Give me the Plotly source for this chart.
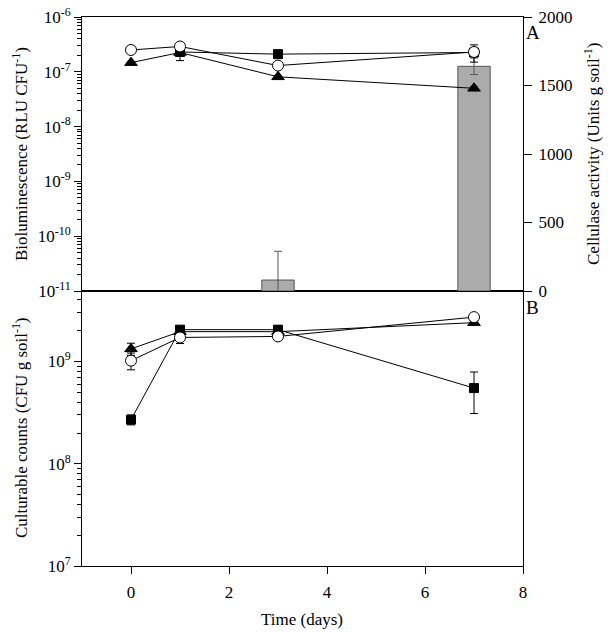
import plotly.graph_objects as go

# ---------------- data ----------------
days = [0, 1, 3, 7]

# Panel A: bioluminescence (RLU CFU^-1), log scale
biolum_square = [None, 2.3e-7, 2.1e-7, 2.25e-7]
biolum_square_err = [0, 0.0, 0.0, 0.0]
biolum_circle = [2.5e-7, 2.9e-7, 1.3e-7, 2.3e-7]
biolum_circle_err = [0, 0.0, 0.0, 0.8e-7]
biolum_triangle = [1.47e-7, 2.25e-7, 8.1e-8, 5.0e-8]
biolum_triangle_err = [0, 0.65e-7, 0.0, 0.3e-8]

# Panel A: cellulase activity (Units g soil^-1), bars
cell_days = [3, 7]
cellulase = [80, 1640]
cellulase_err = [210, 60]

# Panel B: culturable counts (CFU g soil^-1), log scale
count_square = [2.7e8, 2.05e9, 2.05e9, 5.5e8]
count_square_err = [0.3e8, 0.15e9, 0.1e9, 2.4e8]
count_circle = [1.02e9, 1.72e9, 1.76e9, 2.72e9]
count_circle_err = [0.19e9, 0.22e9, 0.15e9, 0.05e9]
count_triangle = [1.33e9, 1.96e9, 1.96e9, 2.4e9]
count_triangle_err = [0.18e9, 0.1e9, 0.1e9, 0.05e9]

x_ticks = [0, 2, 4, 6, 8]
biolum_exps = [-11, -10, -9, -8, -7, -6]
count_exps = [7, 8, 9]
cell_ticks = [0, 500, 1000, 1500, 2000]

FONT = "Liberation Serif"
BLACK = "#000000"

W, H = 609, 633
ML, MT = 82, 17
MR = W - 523
MB = H - 566


def minor_vals(exps):
    out = []
    for e in exps:
        for m in range(2, 10):
            out.append(m * 10 ** e)
    return out


fig = go.Figure()

# bars (base axis y2 so markers on y3 draw above)
fig.add_trace(go.Bar(
    x=cell_days, y=cellulase, width=0.66,
    marker=dict(color="#ababab", line=dict(color="#555555", width=1)),
    error_y=dict(type="data", array=cellulase_err, visible=True,
                 color="#555555", thickness=1, width=4),
    xaxis="x2", yaxis="y2", showlegend=False))


def line_trace(y, err, symbol, fill, xa, ya, size):
    return go.Scatter(
        x=days, y=y, mode="lines+markers",
        line=dict(color=BLACK, width=1),
        marker=dict(symbol=symbol, size=size, color=fill,
                    line=dict(color=BLACK, width=1)),
        error_y=dict(type="data", array=err, visible=True,
                     color=BLACK, thickness=1, width=4),
        xaxis=xa, yaxis=ya, showlegend=False, connectgaps=True)


# panel A lines
fig.add_trace(line_trace(biolum_triangle, biolum_triangle_err, "triangle-up", BLACK, "x2", "y3", 11))
fig.add_trace(line_trace(biolum_square, biolum_square_err, "square", BLACK, "x2", "y3", 9))
fig.add_trace(line_trace(biolum_circle, biolum_circle_err, "circle", "white", "x2", "y3", 11))

# panel B lines
fig.add_trace(line_trace(count_triangle, count_triangle_err, "triangle-up", BLACK, "x", "y", 11))
fig.add_trace(line_trace(count_square, count_square_err, "square", BLACK, "x", "y", 9))
fig.add_trace(line_trace(count_circle, count_circle_err, "circle", "white", "x", "y", 11))

split = 275 / 549
tickfont = dict(family=FONT, size=17, color=BLACK)

fig.update_layout(
    width=W, height=H,
    margin=dict(l=ML, r=MR, t=MT, b=MB, autoexpand=False),
    paper_bgcolor="white", plot_bgcolor="white",
    font=dict(family=FONT, size=17, color=BLACK),
    bargap=0,
    xaxis=dict(domain=[0, 1], anchor="y", range=[-1, 8], automargin=False,
               tickvals=x_ticks, ticktext=[str(v) for v in x_ticks],
               ticks="outside", ticklen=7, tickcolor=BLACK,
               ticklabelstandoff=4,
               showline=True, linecolor=BLACK, linewidth=1, mirror=True,
               showgrid=False, zeroline=False, tickfont=tickfont),
    xaxis2=dict(domain=[0, 1], anchor="y2", range=[-1, 8], automargin=False,
                showticklabels=False, ticks="",
                showline=True, linecolor=BLACK, linewidth=1, mirror=True,
                showgrid=False, zeroline=False),
    yaxis=dict(domain=[0, split], anchor="x", type="log", range=[7, 9.69],
               automargin=False,
               tickvals=[10 ** e for e in count_exps],
               ticktext=["10<sup>%d</sup>" % e for e in count_exps],
               ticks="outside", ticklen=7, tickcolor=BLACK,
               minor=dict(tickvals=minor_vals([7, 8, 9]), ticks="outside",
                          ticklen=4, tickcolor=BLACK, showgrid=False),
               showline=True, linecolor=BLACK, linewidth=1, mirror=True,
               showgrid=False, zeroline=False, tickfont=tickfont),
    yaxis2=dict(domain=[split, 1], anchor="x2", side="right", automargin=False,
                range=[0, 2000], tickvals=cell_ticks,
                ticktext=[str(v) for v in cell_ticks],
                ticks="outside", ticklen=8, tickcolor=BLACK,
                ticklabelstandoff=3,
                showline=True, linecolor=BLACK, linewidth=1,
                showgrid=False, zeroline=False, tickfont=tickfont),
    yaxis3=dict(overlaying="y2", anchor="x2", side="left", type="log",
                range=[-11, -6], automargin=False,
                tickvals=[10 ** e for e in biolum_exps],
                ticktext=["10<sup>%d</sup>" % e for e in biolum_exps],
                ticks="outside", ticklen=7, tickcolor=BLACK,
                minor=dict(tickvals=minor_vals(biolum_exps[:-1]), ticks="outside",
                           ticklen=4, tickcolor=BLACK, showgrid=False),
                showline=True, linecolor=BLACK, linewidth=1,
                showgrid=False, zeroline=False, tickfont=tickfont),
)


def px_to_paper(xp, yp):
    return (xp - ML) / (W - ML - MR), 1 - (yp - MT) / (H - MT - MB)


annos = [
    ("Bioluminescence (RLU CFU<sup>-1</sup>)", 20, 154, -90, "center", 17),
    ("Culturable counts (CFU g soil<sup>-1</sup>)", 20, 428, -90, "center", 17),
    ("Cellulase activity (Units g soil<sup>-1</sup>)", 592, 154, -90, "center", 17),
    ("Time (days)", 302, 619, 0, "center", 17),
    ("A", 524, 33, 0, "left", 19),
    ("B", 524, 307, 0, "left", 19),
]
for text, xp, yp, ang, xa, fs in annos:
    px, py = px_to_paper(xp, yp)
    fig.add_annotation(text=text, x=px, y=py, xref="paper", yref="paper",
                       xanchor=xa, yanchor="middle", textangle=ang,
                       showarrow=False,
                       font=dict(family=FONT, size=fs, color=BLACK))

fig.write_html("out.html",
               config={"displayModeBar": False, "staticPlot": True},
               post_script="document.body.style.margin='0px';document.body.style.overflow='hidden';")
